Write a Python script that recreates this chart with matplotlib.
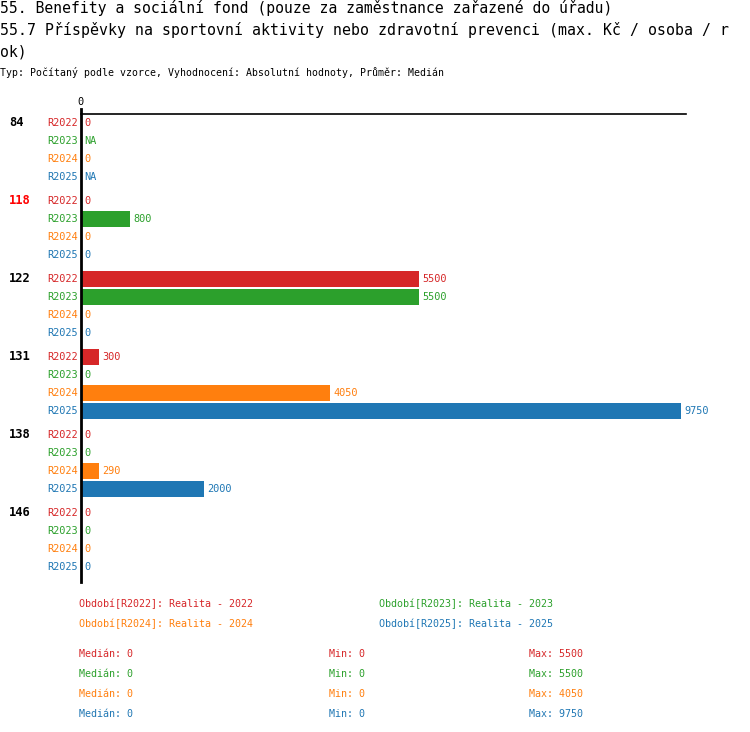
import matplotlib
matplotlib.use("Agg")
import matplotlib.pyplot as plt
from matplotlib.lines import Line2D
import numpy as np

plt.rcParams['font.family'] = ['DejaVu Sans Mono']

groups = ["84", "118", "122", "131", "138", "146"]
group_colors = ["black", "#ff0000", "black", "black", "black", "black"]
series = ["R2022", "R2023", "R2024", "R2025"]
series_colors = ["#d62728", "#2ca02c", "#ff7f0e", "#1f77b4"]
# values[g][s]; None = NA
values = [
    [0, None, 0, None],
    [0, 800, 0, 0],
    [5500, 5500, 0, 0],
    [300, 0, 4050, 9750],
    [0, 0, 290, 2000],
    [0, 0, 0, 0],
]
legend_labels = ["Období[R2022]: Realita - 2022", "Období[R2023]: Realita - 2023",
                 "Období[R2024]: Realita - 2024", "Období[R2025]: Realita - 2025"]
medians = [0, 0, 0, 0]
mins = [0, 0, 0, 0]
maxs = [5500, 5500, 4050, 9750]

W, H = 750, 732
fig = plt.figure(figsize=(W / 100, H / 100), dpi=100)

def fx(px):
    return px / W

def fy(py):
    return 1 - py / H

# titles
fig.text(fx(0), fy(8), "55. Benefity a sociální fond (pouze za zaměstnance zařazené do úřadu)",
         fontsize=10.6, va="center", ha="left")
fig.text(fx(0), fy(30), "55.7 Příspěvky na sportovní aktivity nebo zdravotní prevenci (max. Kč / osoba / r",
         fontsize=10.7, va="center", ha="left")
fig.text(fx(0), fy(52), "ok)", fontsize=10.6, va="center", ha="left")
fig.text(fx(0), fy(73), "Typ: Počítaný podle vzorce, Vyhodnocení: Absolutní hodnoty, Průměr: Medián",
         fontsize=7.1, va="center", ha="left")

# axes: x 0 -> px 81, 9750 -> px 681
x0_px, xmax_px = 81, 681
vmax = max(maxs)
ax_left_px, ax_right_px = 81, 686
ax_top_px, ax_bot_px = 109, 582
ax = fig.add_axes([fx(ax_left_px), fy(ax_bot_px), fx(ax_right_px - ax_left_px),
                   (ax_bot_px - ax_top_px) / H])
xr = vmax * (ax_right_px - x0_px) / (xmax_px - x0_px)
ax.set_xlim(0, xr)
row_px = 18.0
first_row_px = 123
ax.set_ylim((ax_bot_px - first_row_px) / row_px, (ax_top_px - first_row_px) / row_px)
for s in ["top", "right", "bottom"]:
    ax.spines[s].set_visible(False)
ax.spines["left"].set_linewidth(2)
ax.spines["left"].set_color("black")
ax.set_xticks([])
ax.set_yticks([])
ax.patch.set_alpha(0)

gap = 6 / row_px
px_per_unit = (xmax_px - x0_px) / vmax
for g, gname in enumerate(groups):
    base = g * (len(series) + gap)
    ax.text(-(81 - 9) / px_per_unit, base, gname, fontsize=8.7, fontweight="bold",
            color=group_colors[g], va="center", ha="left", clip_on=False)
    for s, sname in enumerate(series):
        y = base + s
        v = values[g][s]
        ax.text(-3 / px_per_unit, y, sname, fontsize=7.4, color=series_colors[s],
                va="center", ha="right", clip_on=False)
        if v is None:
            ax.text(3 / px_per_unit, y, "NA", fontsize=7.4, color=series_colors[s],
                    va="center", ha="left")
            continue
        if v > 0:
            ax.barh(y, v, height=16 / row_px, color=series_colors[s], left=0)
        ax.text(v + 3 / px_per_unit, y, f"{v}", fontsize=7.4, color=series_colors[s],
                va="center", ha="left", clip_on=False)

# top axis line and tick
fig.add_artist(Line2D([fx(81), fx(686)], [fy(114), fy(114)], color="black", lw=1.2))
fig.text(fx(80.5), fy(102), "0", fontsize=7.4, ha="center", va="center")

# legend
leg_x = [79, 379]
leg_y = [604, 624]
for i, lab in enumerate(legend_labels):
    fig.text(fx(leg_x[i % 2]), fy(leg_y[i // 2]), lab, fontsize=7.2,
             color=series_colors[i], ha="left", va="center")

# stats
stat_y = [654, 674, 694, 714]
for i in range(len(series)):
    c = series_colors[i]
    fig.text(fx(79), fy(stat_y[i]), f"Medián: {medians[i]}", fontsize=7.2, color=c, va="center")
    fig.text(fx(329), fy(stat_y[i]), f"Min: {mins[i]}", fontsize=7.2, color=c, va="center")
    fig.text(fx(529), fy(stat_y[i]), f"Max: {maxs[i]}", fontsize=7.2, color=c, va="center")

fig.savefig("out.png", dpi=100, facecolor="white")
